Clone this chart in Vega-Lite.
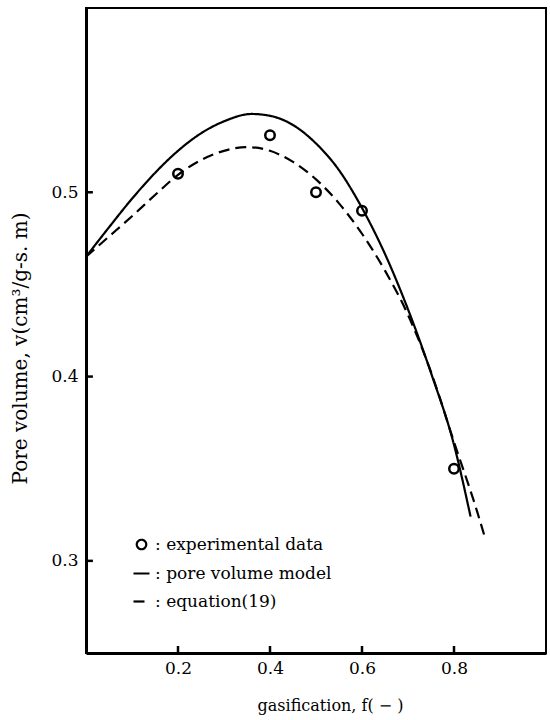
{
  "$schema": "https://vega.github.io/schema/vega-lite/v6.json",
  "width": 460,
  "height": 645,
  "autosize": {"type": "none"},
  "padding": {"left": 86, "top": 8, "right": 4, "bottom": 67},
  "background": "white",
  "config": {
    "view": {"stroke": "black", "strokeWidth": 2},
    "font": "DejaVu Serif",
    "axis": {
      "domainColor": "black", "domainWidth": 3, "ticks": false,
      "labelFont": "DejaVu Serif", "labelFontSize": 17, "labelColor": "black",
      "titleFont": "DejaVu Serif", "titleFontSize": 16, "titleFontWeight": "normal", "titleColor": "black",
      "grid": false
    },
    "legend": {
      "labelFont": "DejaVu Serif", "labelFontSize": 17, "labelColor": "black", "labelLimit": 400,
      "symbolStrokeColor": "black", "symbolStrokeWidth": 2.2, "symbolOpacity": 1
    }
  },
  "datasets": {
    "curves": [
      {"series": "pore volume model", "f": 0.0, "v": 0.465},
      {"series": "pore volume model", "f": 0.05, "v": 0.481},
      {"series": "pore volume model", "f": 0.1, "v": 0.4965},
      {"series": "pore volume model", "f": 0.15, "v": 0.5105},
      {"series": "pore volume model", "f": 0.2, "v": 0.5225},
      {"series": "pore volume model", "f": 0.25, "v": 0.532},
      {"series": "pore volume model", "f": 0.3, "v": 0.5385},
      {"series": "pore volume model", "f": 0.36, "v": 0.5425},
      {"series": "pore volume model", "f": 0.4, "v": 0.5415},
      {"series": "pore volume model", "f": 0.45, "v": 0.5365},
      {"series": "pore volume model", "f": 0.5, "v": 0.5265},
      {"series": "pore volume model", "f": 0.55, "v": 0.512},
      {"series": "pore volume model", "f": 0.6, "v": 0.4915},
      {"series": "pore volume model", "f": 0.65, "v": 0.4665},
      {"series": "pore volume model", "f": 0.7, "v": 0.4365},
      {"series": "pore volume model", "f": 0.75, "v": 0.402},
      {"series": "pore volume model", "f": 0.8, "v": 0.363},
      {"series": "pore volume model", "f": 0.836, "v": 0.324},
      {"series": "equation(19)", "f": 0.0, "v": 0.465},
      {"series": "equation(19)", "f": 0.05, "v": 0.476},
      {"series": "equation(19)", "f": 0.1, "v": 0.487},
      {"series": "equation(19)", "f": 0.15, "v": 0.4985},
      {"series": "equation(19)", "f": 0.2, "v": 0.5095},
      {"series": "equation(19)", "f": 0.25, "v": 0.5175},
      {"series": "equation(19)", "f": 0.3, "v": 0.5225},
      {"series": "equation(19)", "f": 0.35, "v": 0.5245},
      {"series": "equation(19)", "f": 0.4, "v": 0.5225},
      {"series": "equation(19)", "f": 0.45, "v": 0.5165},
      {"series": "equation(19)", "f": 0.5, "v": 0.507},
      {"series": "equation(19)", "f": 0.55, "v": 0.494},
      {"series": "equation(19)", "f": 0.6, "v": 0.4775},
      {"series": "equation(19)", "f": 0.65, "v": 0.4575},
      {"series": "equation(19)", "f": 0.7, "v": 0.4335},
      {"series": "equation(19)", "f": 0.75, "v": 0.4025},
      {"series": "equation(19)", "f": 0.8, "v": 0.3645},
      {"series": "equation(19)", "f": 0.85, "v": 0.327},
      {"series": "equation(19)", "f": 0.868, "v": 0.312}
    ],
    "points": [
      {"series": "experimental data", "f": 0.2, "v": 0.51},
      {"series": "experimental data", "f": 0.4, "v": 0.531},
      {"series": "experimental data", "f": 0.5, "v": 0.5},
      {"series": "experimental data", "f": 0.6, "v": 0.49},
      {"series": "experimental data", "f": 0.8, "v": 0.35}
    ],
    "xticks": [{"tick": 0.2}, {"tick": 0.4}, {"tick": 0.6}, {"tick": 0.8}],
    "yticks": [{"tick": 0.3}, {"tick": 0.4}, {"tick": 0.5}]
  },
  "layer": [
    {
      "data": {"name": "curves"},
      "mark": {"type": "line", "color": "black", "strokeWidth": 2.2, "interpolate": "monotone"},
      "encoding": {
        "x": {"field": "f", "type": "quantitative", "scale": {"domain": [0, 1]},
              "axis": {"values": [0.2, 0.4, 0.6, 0.8], "format": ".1f", "title": "gasification, f( − )",
                       "labelPadding": 7, "titleX": 244, "titleY": 52, "titleBaseline": "middle", "titleAlign": "center"}},
        "y": {"field": "v", "type": "quantitative", "scale": {"domain": [0.25, 0.6]},
              "axis": {"values": [0.3, 0.4, 0.5], "format": ".1f", "title": "Pore volume, v(cm³/g-s. m)",
                       "labelPadding": 8, "titleFontSize": 20, "titleX": -66, "titleY": 340, "titleBaseline": "middle", "titleAlign": "center", "titleAngle": -90}},
        "strokeDash": {"field": "series", "type": "nominal",
          "scale": {"domain": ["experimental data", "pore volume model", "equation(19)"], "range": [[1, 0], [1, 0], [11, 6]]},
          "legend": {"title": null, "orient": "none", "legendX": 46, "legendY": 527, "labelExpr": "': ' + datum.label", "rowPadding": 10, "symbolSize": 256,
                     "encode": {"symbols": {"update": {"size": {"signal": "datum.value === 'experimental data' ? 90 : 256"}, "strokeDash": {"signal": "datum.value === 'equation(19)' ? [4, 2] : [1, 0]"}, "opacity": {"value": 1}}}}}}
      }
    },
    {
      "data": {"name": "points"},
      "mark": {"type": "point", "filled": false, "color": "black", "size": 90, "strokeWidth": 2.5, "opacity": 1},
      "encoding": {
        "x": {"field": "f", "type": "quantitative"},
        "y": {"field": "v", "type": "quantitative"},
        "shape": {"field": "series", "type": "nominal",
          "scale": {"domain": ["experimental data", "pore volume model", "equation(19)"], "range": ["circle", "stroke", "stroke"]},
          "legend": {"title": null, "orient": "none", "legendX": 46, "legendY": 527, "labelExpr": "': ' + datum.label", "rowPadding": 10, "symbolSize": 256,
                     "encode": {"symbols": {"update": {"size": {"signal": "datum.value === 'experimental data' ? 90 : 256"}, "strokeDash": {"signal": "datum.value === 'equation(19)' ? [4, 2] : [1, 0]"}, "opacity": {"value": 1}}}}}}
      }
    },
    {
      "data": {"name": "xticks"},
      "mark": {"type": "rule", "color": "black", "strokeWidth": 2.5},
      "encoding": {
        "x": {"field": "tick", "type": "quantitative",
              "axis": {"values": [0.2, 0.4, 0.6, 0.8], "format": ".1f", "title": "gasification, f( − )",
                       "labelPadding": 7, "titleX": 244, "titleY": 52, "titleBaseline": "middle", "titleAlign": "center"}},
        "y": {"datum": 0.25, "type": "quantitative",
              "axis": {"values": [0.3, 0.4, 0.5], "format": ".1f", "title": "Pore volume, v(cm³/g-s. m)",
                       "labelPadding": 8, "titleFontSize": 20, "titleX": -66, "titleY": 340, "titleBaseline": "middle", "titleAlign": "center", "titleAngle": -90}},
        "y2": {"datum": 0.2538}
      }
    },
    {
      "data": {"name": "yticks"},
      "mark": {"type": "rule", "color": "black", "strokeWidth": 2.5},
      "encoding": {
        "y": {"field": "tick", "type": "quantitative",
              "axis": {"values": [0.3, 0.4, 0.5], "format": ".1f", "title": "Pore volume, v(cm³/g-s. m)",
                       "labelPadding": 8, "titleFontSize": 20, "titleX": -66, "titleY": 340, "titleBaseline": "middle", "titleAlign": "center", "titleAngle": -90}},
        "x": {"datum": 0, "type": "quantitative",
              "axis": {"values": [0.2, 0.4, 0.6, 0.8], "format": ".1f", "title": "gasification, f( − )",
                       "labelPadding": 7, "titleX": 244, "titleY": 52, "titleBaseline": "middle", "titleAlign": "center"}},
        "x2": {"datum": 0.015}
      }
    }
  ]
}
